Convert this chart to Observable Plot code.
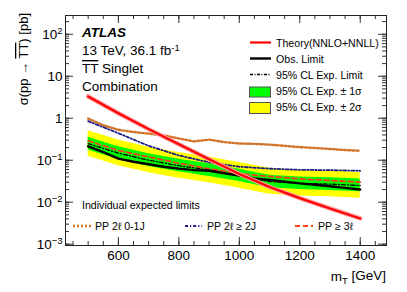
<!DOCTYPE html>
<html>
<head>
<meta charset="utf-8">
<script src="https://cdn.jsdelivr.net/npm/d3@7"></script>
<script src="https://cdn.jsdelivr.net/npm/@observablehq/plot@0.6"></script>
<style>
  html, body { margin: 0; padding: 0; background: #fff; }
</style>
</head>
<body>
<div id="chart"></div>
<script>
// ---------- data ----------
const mass = [500, 600, 700, 800, 900, 1000, 1100, 1200, 1300, 1400];
const theory = [3.3, 1.32, 0.55, 0.24, 0.105, 0.047, 0.023, 0.0125, 0.0071, 0.0041];
const expected = [0.247, 0.147, 0.100, 0.074, 0.058, 0.043, 0.031, 0.028, 0.027, 0.025];
const exp1Up = [0.351, 0.209, 0.142, 0.105, 0.082, 0.061, 0.044, 0.040, 0.038, 0.0355];
const exp1Dn = [0.175, 0.104, 0.071, 0.053, 0.041, 0.031, 0.022, 0.020, 0.019, 0.0178];
const exp2Up = [0.506, 0.301, 0.205, 0.152, 0.119, 0.088, 0.064, 0.057, 0.055, 0.051];
const exp2Dn = [0.124, 0.074, 0.050, 0.037, 0.029, 0.0215, 0.0155, 0.014, 0.0135, 0.0125];
const pp2lGe2J = [0.85, 0.44, 0.22, 0.13, 0.089, 0.070, 0.063, 0.059, 0.058, 0.056];
const ppGe3l = [0.29, 0.17, 0.12, 0.085, 0.062, 0.048, 0.041, 0.036, 0.033, 0.030];

const massFine = [500, 550, 600, 650, 700, 750, 800, 850, 900, 950, 1000, 1050, 1100, 1150, 1200, 1250, 1300, 1350, 1400];
const observed = [0.215, 0.155, 0.109, 0.092, 0.080, 0.070, 0.063, 0.058, 0.056, 0.049, 0.043, 0.037, 0.034, 0.031, 0.028, 0.026, 0.024, 0.022, 0.020];
const pp2l01J = [0.98, 0.68, 0.53, 0.47, 0.43, 0.39, 0.33, 0.28, 0.31, 0.27, 0.25, 0.245, 0.235, 0.22, 0.205, 0.195, 0.185, 0.175, 0.167];

const xTickValues = [600, 800, 1000, 1200, 1400];
const yTickValues = [0.001, 0.01, 0.1, 1, 10, 100];

// ---------- tables ----------
const rows = mass.map((m, i) => ({m, theory: theory[i], exp: expected[i], u1: exp1Up[i], d1: exp1Dn[i], u2: exp2Up[i], d2: exp2Dn[i], ge2J: pp2lGe2J[i], ge3l: ppGe3l[i]}));
const rowsFine = massFine.map((m, i) => ({m, obs: observed[i], j01: pp2l01J[i]}));

const FONT = "'Liberation Sans', Arial, Helvetica, sans-serif";
const W = 407, H = 292, ML = 65, MR = 21, MT = 15, MB = 47;
const FW = W - ML - MR, FH = H - MT - MB;

const xMinor = d3.range(450, 1451, 50);
const yMinor = [];
for (let e = -3; e <= 2; e++) for (let k = 1; k <= 9; k++) { const v = k * Math.pow(10, e); if (v >= 0.00093 && v <= 280) yMinor.push(v); }
const tickStroke = "#333";

const plot = Plot.plot({
  width: W, height: H,
  marginLeft: ML, marginRight: MR, marginTop: MT, marginBottom: MB,
  x: {domain: [425, 1487]},
  y: {type: "log", domain: [0.00093, 280]},
  style: {fontFamily: FONT, fontSize: "13.5px", color: "#000", background: "#fff"},
  marks: [
    Plot.areaY(rows, {x: "m", y1: "d2", y2: "u2", fill: "#ffff00"}),
    Plot.areaY(rows, {x: "m", y1: "d1", y2: "u1", fill: "#00ff00"}),
    Plot.line(rowsFine, {x: "m", y: "j01", stroke: "#d2742a", strokeWidth: 2.4, strokeDasharray: "2,2"}),
    Plot.line(rows, {x: "m", y: "ge2J", stroke: "#1c1c86", strokeWidth: 1.8, strokeDasharray: "3,2,1.2,2"}),
    Plot.line(rows, {x: "m", y: "ge3l", stroke: "#ff3c1e", strokeWidth: 1.8, strokeDasharray: "5,3"}),
    Plot.line(rows, {x: "m", y: "exp", stroke: "#000", strokeWidth: 1.3, strokeDasharray: "4,2,1.2,2"}),
    Plot.line(rowsFine, {x: "m", y: "obs", stroke: "#000", strokeWidth: 2.4}),
    Plot.line(rows, {x: "m", y: "theory", stroke: "#ff9c9c", strokeWidth: 4.5}),
    Plot.line(rows, {x: "m", y: "theory", stroke: "#ff0000", strokeWidth: 2.2}),
    // ticks (inward, all four sides)
    Plot.tickX(xMinor, {x: d => d, insetTop: FH - 4, stroke: tickStroke}),
    Plot.tickX(xMinor, {x: d => d, insetBottom: FH - 4, stroke: tickStroke}),
    Plot.tickX(xTickValues, {x: d => d, insetTop: FH - 8, stroke: tickStroke}),
    Plot.tickX(xTickValues, {x: d => d, insetBottom: FH - 8, stroke: tickStroke}),
    Plot.tickY(yMinor, {y: d => d, insetRight: FW - 4, stroke: tickStroke}),
    Plot.tickY(yMinor, {y: d => d, insetLeft: FW - 4, stroke: tickStroke}),
    Plot.tickY(yTickValues, {y: d => d, insetRight: FW - 8, stroke: tickStroke}),
    Plot.tickY(yTickValues, {y: d => d, insetLeft: FW - 8, stroke: tickStroke}),
    Plot.axisX({ticks: xTickValues, tickSize: 0, tickPadding: 5, tickFormat: d => String(d), label: null}),
    Plot.axisY({ticks: yTickValues, tickSize: 0, tickPadding: 3, tickFormat: d => {
      const e = Math.round(Math.log10(d));
      return e === 0 ? "1" : e === 1 ? "10" : "10^" + e;
    }, label: null}),
    Plot.frame({stroke: "#222", strokeWidth: 1})
  ]
});

document.getElementById("chart").appendChild(plot);
const svg = d3.select(plot);

// superscripts on y tick labels
svg.selectAll('g[aria-label="y-axis tick label"] text').each(function() {
  const t = d3.select(this);
  const s = t.text();
  if (s.includes("^")) {
    const [base, exp] = s.split("^");
    t.text(null);
    t.append("tspan").text(base);
    t.append("tspan").attr("dy", "-0.5em").attr("font-size", "9.5px").text(exp.replace("-", "\u2212"));
  }
});

const g = svg.append("g").attr("font-family", FONT).attr("fill", "#000").attr("text-anchor", "start");

// axis titles
const yl = g.append("text").attr("transform", "translate(28,13) rotate(-90)")
  .attr("text-anchor", "end").attr("font-size", "13px");
yl.append("tspan").text("\u03c3(pp \u2192 ");
yl.append("tspan").style("text-decoration", "overline").text("TT");
yl.append("tspan").text(") [pb]");

const xl = g.append("text").attr("x", 386).attr("y", 281).attr("text-anchor", "end").attr("font-size", "13.5px");
xl.append("tspan").text("m");
xl.append("tspan").attr("dy", "0.3em").attr("font-size", "9.5px").text("T");
xl.append("tspan").attr("dy", "-0.3em").text(" [GeV]");

// ATLAS labels
g.append("text").attr("x", 82).attr("y", 37).attr("font-size", "13.5px").attr("font-weight", "bold").attr("font-style", "italic").text("ATLAS");
const lum = g.append("text").attr("x", 82).attr("y", 55).attr("font-size", "13.5px");
lum.append("tspan").text("13 TeV, 36.1 fb");
lum.append("tspan").attr("dy", "-0.45em").attr("font-size", "9.5px").text("-1");
const sg = g.append("text").attr("x", 82).attr("y", 73).attr("font-size", "13.5px");
sg.append("tspan").style("text-decoration", "overline").text("TT");
sg.append("tspan").text(" Singlet");
g.append("text").attr("x", 82).attr("y", 91).attr("font-size", "13.5px").text("Combination");

// top-right legend
const LF = "10.6px";
function seg(x1, x2, y, stroke, w, dash) {
  const l = g.append("line").attr("x1", x1).attr("x2", x2).attr("y1", y).attr("y2", y)
    .attr("stroke", stroke).attr("stroke-width", w);
  if (dash) l.attr("stroke-dasharray", dash);
}
function label(x, y, txt) {
  return g.append("text").attr("x", x).attr("y", y).attr("font-size", LF).text(txt);
}
seg(250, 271, 42.5, "#ff0000", 2.2);
label(276, 46.5, "Theory(NNLO+NNLL)");
seg(250, 271, 58.5, "#000", 2.4);
label(276, 62.5, "Obs. Limit");
seg(250, 271, 74.5, "#000", 1.3, "3,1.5,1,1.5");
label(276, 78.5, "95% CL Exp. Limit");
g.append("rect").attr("x", 249.5).attr("y", 87).attr("width", 21).attr("height", 10).attr("fill", "#00ff00").attr("stroke", "#555");
label(276, 94.5, "95% CL Exp. \u00b1 1\u03c3");
g.append("rect").attr("x", 249.5).attr("y", 102.5).attr("width", 21).attr("height", 11).attr("fill", "#ffff00").attr("stroke", "#555");
label(276, 110.5, "95% CL Exp. \u00b1 2\u03c3");

// bottom legend
label(82, 209, "Individual expected limits");
seg(73, 91, 226, "#d2742a", 2.4, "2,2");
label(95, 230, "PP 2\u2113 0-1J");
seg(185, 202, 226, "#1c1c86", 1.8, "3,2,1.2,2");
label(207, 230, "PP 2\u2113 \u2265 2J");
seg(295, 313, 226, "#ff3c1e", 1.8, "5,3");
label(318, 230, "PP \u2265 3\u2113");
</script>
</body>
</html>
